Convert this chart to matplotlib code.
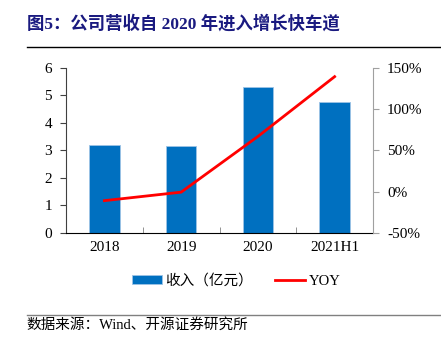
import matplotlib
matplotlib.use('Agg')
import matplotlib.pyplot as plt
from matplotlib.lines import Line2D
from matplotlib.patches import Patch
from matplotlib.ticker import FuncFormatter

plt.rcParams['font.family'] = ['Liberation Serif', 'Noto Sans CJK SC']
plt.rcParams['axes.unicode_minus'] = False

categories = ['2018', '2019', '2020', '2021H1']
revenue = [3.2, 3.18, 5.3, 4.75]          # 收入（亿元）
yoy = [-10.8, -0.5, 67.0, 139.5]          # YOY, %

bar_color = '#0070C0'
line_color = '#FF0000'

fig = plt.figure(figsize=(4.41, 3.46), dpi=100)
ax = fig.add_axes([0.1497, 0.3266, 0.6961, 0.4769])
x = list(range(len(categories)))
ax.bar(x, revenue, width=0.4, color=bar_color, edgecolor='#9DC3E6', linewidth=0.6, zorder=2)
ax.set_xlim(-0.5, 3.5)
ax.set_ylim(0, 6)
ax.set_yticks(range(0, 7))
ax.set_xticks(x)
ax.set_xticklabels(categories, fontsize=11)
ax.set_xticks([0.5, 1.5, 2.5], minor=True)
ax.tick_params(axis='x', which='major', length=0, pad=6)
ax.tick_params(axis='x', which='minor', direction='in', length=4, color='#808080')
ax.tick_params(axis='y', labelsize=11, length=4, color='#404040', pad=6)
for s in ['top', 'right']:
    ax.spines[s].set_visible(False)
ax.spines['left'].set_color('#404040')
ax.spines['bottom'].set_color('black')

ax2 = ax.twinx()
ax2.plot(x, yoy, color=line_color, linewidth=2, zorder=3)
ax2.set_ylim(-50, 150)
ax2.set_yticks([-50, 0, 50, 100, 150])
ax2.yaxis.set_major_formatter(FuncFormatter(lambda v, p: '%d%%' % v))
ax2.tick_params(axis='y', labelsize=11, length=4, color='#A0A0A0', pad=6)
for s in ['top', 'left', 'bottom']:
    ax2.spines[s].set_visible(False)
ax2.spines['right'].set_color('#A0A0A0')

handles = [Patch(facecolor=bar_color, edgecolor='#9DC3E6', linewidth=0.6),
           Line2D([0], [0], color=line_color, linewidth=2)]
fig.legend(handles, ['收入（亿元）', 'YOY'], loc='center', bbox_to_anchor=(0.535, 0.188),
           ncol=2, frameon=False, fontsize=10.5, handlelength=2.1, handleheight=0.6,
           columnspacing=1.5, handletextpad=0.2)

fig.text(0.061, 0.931, '图5：公司营收自 2020 年进入增长快车道', fontsize=12.5, fontweight='bold',
         color='#1A1A80', ha='left', va='center')
fig.add_artist(Line2D([0.061, 1.0], [0.864, 0.864], color='black', linewidth=1))
fig.add_artist(Line2D([0.061, 1.0], [0.09, 0.09], color='#808080', linewidth=1))
fig.text(0.061, 0.06, '数据来源：Wind、开源证券研究所', fontsize=10.5, color='black',
         ha='left', va='center')

fig.savefig('out.png', dpi=100)
